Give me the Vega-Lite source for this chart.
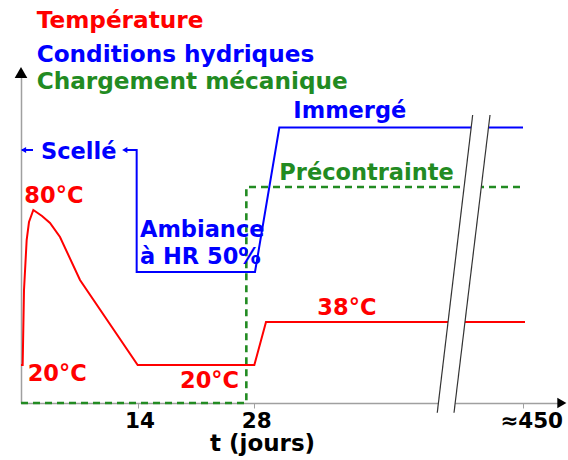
{
  "$schema": "https://vega.github.io/schema/vega-lite/v6.json",
  "width": 539,
  "height": 331,
  "autosize": "none",
  "padding": {"left": 21, "top": 72, "right": 8, "bottom": 57},
  "background": "white",
  "config": {
    "view": {"stroke": null},
    "text": {"font": "DejaVu Sans", "fontWeight": "bold", "fontSize": 22.5, "align": "left", "baseline": "alphabetic"}
  },
  "datasets": {
    "curves": [
      {"series": "Température", "seg": "t", "i": 0, "x": 0, "y": 38},
      {"series": "Température", "seg": "t", "i": 1, "x": 0.2, "y": 38},
      {"series": "Température", "seg": "t", "i": 2, "x": 0.36, "y": 113},
      {"series": "Température", "seg": "t", "i": 3, "x": 0.68, "y": 163},
      {"series": "Température", "seg": "t", "i": 4, "x": 0.96, "y": 181},
      {"series": "Température", "seg": "t", "i": 5, "x": 1.48, "y": 193},
      {"series": "Température", "seg": "t", "i": 6, "x": 2.52, "y": 187},
      {"series": "Température", "seg": "t", "i": 7, "x": 3.48, "y": 180},
      {"series": "Température", "seg": "t", "i": 8, "x": 4.68, "y": 166},
      {"series": "Température", "seg": "t", "i": 9, "x": 7.08, "y": 123},
      {"series": "Température", "seg": "t", "i": 10, "x": 14, "y": 38},
      {"series": "Température", "seg": "t", "i": 11, "x": 28, "y": 38},
      {"series": "Température", "seg": "t", "i": 12, "x": 29.4, "y": 81},
      {"series": "Température", "seg": "t", "i": 13, "x": 60.48, "y": 81},
      {"series": "Conditions hydriques", "seg": "h", "i": 0, "x": 12.36, "y": 253},
      {"series": "Conditions hydriques", "seg": "h", "i": 1, "x": 13.88, "y": 253},
      {"series": "Conditions hydriques", "seg": "h", "i": 2, "x": 13.88, "y": 131},
      {"series": "Conditions hydriques", "seg": "h", "i": 3, "x": 28.08, "y": 131},
      {"series": "Conditions hydriques", "seg": "h", "i": 4, "x": 31, "y": 275.5},
      {"series": "Conditions hydriques", "seg": "h", "i": 5, "x": 60.24, "y": 275.5},
      {"series": "Conditions hydriques", "seg": "a", "i": 0, "x": 0.12, "y": 253},
      {"series": "Conditions hydriques", "seg": "a", "i": 1, "x": 1.44, "y": 253}
    ],
    "meca": [
      {"series": "Chargement mécanique", "i": 0, "x": 0, "y": 0},
      {"series": "Chargement mécanique", "i": 1, "x": 27.04, "y": 0},
      {"series": "Chargement mécanique", "i": 2, "x": 27.04, "y": 216},
      {"series": "Chargement mécanique", "i": 3, "x": 60.2, "y": 216}
    ],
    "heads": [
      {"x": 0.3, "y": 253},
      {"x": 12.45, "y": 253}
    ],
    "mask": [
      {"y": 288, "x": 54.2, "x2": 56.28},
      {"y": -9.7, "x": 49.95, "x2": 51.96}
    ],
    "breaks": [
      {"g": "a", "x": 54.2, "y": 288},
      {"g": "a", "x": 49.95, "y": -9.7},
      {"g": "b", "x": 56.28, "y": 288},
      {"g": "b", "x": 51.96, "y": -9.7}
    ],
    "headers": [
      {"series": "Température", "label": "Température", "x": 1.88, "y": 374.7},
      {"series": "Conditions hydriques", "label": "Conditions hydriques", "x": 1.88, "y": 341},
      {"series": "Chargement mécanique", "label": "Chargement mécanique", "x": 1.88, "y": 313.7}
    ],
    "labels": [
      {"series": "Température", "label": "80°C", "x": 0.4, "y": 200},
      {"series": "Température", "label": "20°C", "x": 0.8, "y": 22},
      {"series": "Température", "label": "20°C", "x": 19.08, "y": 14.7},
      {"series": "Température", "label": "38°C", "x": 35.56, "y": 88},
      {"series": "Conditions hydriques", "label": "Scellé", "x": 2.4, "y": 243.7},
      {"series": "Conditions hydriques", "label": "Ambiance", "x": 14.28, "y": 166.3},
      {"series": "Conditions hydriques", "label": "à HR 50%", "x": 14.28, "y": 139},
      {"series": "Conditions hydriques", "label": "Immergé", "x": 32.68, "y": 284.7},
      {"series": "Chargement mécanique", "label": "Précontrainte", "x": 31, "y": 223}
    ],
    "ticklabels": [
      {"label": "14", "x": 12.48, "y": -24.5},
      {"label": "28", "x": 26.48, "y": -24.5},
      {"label": "≈450", "x": 57.5, "y": -24.5}
    ]
  },
  "layer": [
    {
      "data": {"name": "meca"},
      "mark": {"type": "line", "strokeWidth": 2.6, "strokeDash": [7, 5], "color": "#228b22"},
      "encoding": {
        "x": {
          "field": "x", "type": "quantitative",
          "scale": {"domain": [0, 64.68], "nice": false, "zero": false},
          "axis": {"values": [14, 28, 60.2], "labels": false, "grid": false, "title": null, "domainColor": "#a0a0a0", "domainWidth": 1.5, "tickColor": "#a0a0a0", "tickSize": 5, "tickWidth": 1}
        },
        "y": {
          "field": "y", "type": "quantitative",
          "scale": {"domain": [0, 331], "nice": false, "zero": false},
          "axis": {"labels": false, "ticks": false, "grid": false, "title": null, "domainColor": "#a0a0a0", "domainWidth": 1.5}
        },
        "order": {"field": "i"}
      }
    },
    {
      "data": {"name": "curves"},
      "mark": {"type": "line", "strokeWidth": 2},
      "encoding": {
        "x": {"field": "x", "type": "quantitative"},
        "y": {"field": "y", "type": "quantitative"},
        "detail": {"field": "seg"},
        "order": {"field": "i"},
        "color": {"field": "series", "type": "nominal", "legend": null,
          "scale": {"domain": ["Température", "Conditions hydriques", "Chargement mécanique"], "range": ["#ff0000", "#0000ff", "#228b22"]}}
      }
    },
    {
      "data": {"name": "heads"},
      "mark": {"type": "point", "shape": "triangle-left", "filled": true, "size": 36, "color": "#0000ff", "opacity": 1},
      "encoding": {
        "x": {"field": "x", "type": "quantitative"},
        "y": {"field": "y", "type": "quantitative"}
      }
    },
    {
      "data": {"name": "mask"},
      "mark": {"type": "area", "orient": "horizontal", "color": "white", "opacity": 1},
      "encoding": {
        "y": {"field": "y", "type": "quantitative"},
        "x": {"field": "x", "type": "quantitative"},
        "x2": {"field": "x2"}
      }
    },
    {
      "data": {"name": "breaks"},
      "mark": {"type": "line", "strokeWidth": 1.2, "color": "#333333"},
      "encoding": {
        "x": {"field": "x", "type": "quantitative"},
        "y": {"field": "y", "type": "quantitative"},
        "detail": {"field": "g"}
      }
    },
    {
      "data": {"values": [{"x": 0, "y": 330.5}]},
      "mark": {"type": "point", "shape": "triangle-up", "filled": true, "size": 160, "color": "black", "opacity": 1},
      "encoding": {
        "x": {"field": "x", "type": "quantitative"},
        "y": {"field": "y", "type": "quantitative"}
      }
    },
    {
      "data": {"values": [{"x": 64.9, "y": 0}]},
      "mark": {"type": "point", "shape": "triangle-right", "filled": true, "size": 110, "color": "black", "opacity": 1},
      "encoding": {
        "x": {"field": "x", "type": "quantitative"},
        "y": {"field": "y", "type": "quantitative"}
      }
    },
    {
      "data": {"name": "headers"},
      "mark": {"type": "text", "fontSize": 23.2},
      "encoding": {
        "x": {"field": "x", "type": "quantitative"},
        "y": {"field": "y", "type": "quantitative"},
        "text": {"field": "label"},
        "color": {"field": "series", "type": "nominal", "legend": null}
      }
    },
    {
      "data": {"name": "labels"},
      "mark": {"type": "text"},
      "encoding": {
        "x": {"field": "x", "type": "quantitative"},
        "y": {"field": "y", "type": "quantitative"},
        "text": {"field": "label"},
        "color": {"field": "series", "type": "nominal", "legend": null}
      }
    },
    {
      "data": {"name": "ticklabels"},
      "mark": {"type": "text", "color": "black", "fontSize": 21.5},
      "encoding": {
        "x": {"field": "x", "type": "quantitative"},
        "y": {"field": "y", "type": "quantitative"},
        "text": {"field": "label"}
      }
    },
    {
      "data": {"values": [{"label": "t (jours)", "x": 22.68, "y": -47.5}]},
      "mark": {"type": "text", "color": "black", "fontSize": 23},
      "encoding": {
        "x": {"field": "x", "type": "quantitative"},
        "y": {"field": "y", "type": "quantitative"},
        "text": {"field": "label"}
      }
    }
  ]
}
